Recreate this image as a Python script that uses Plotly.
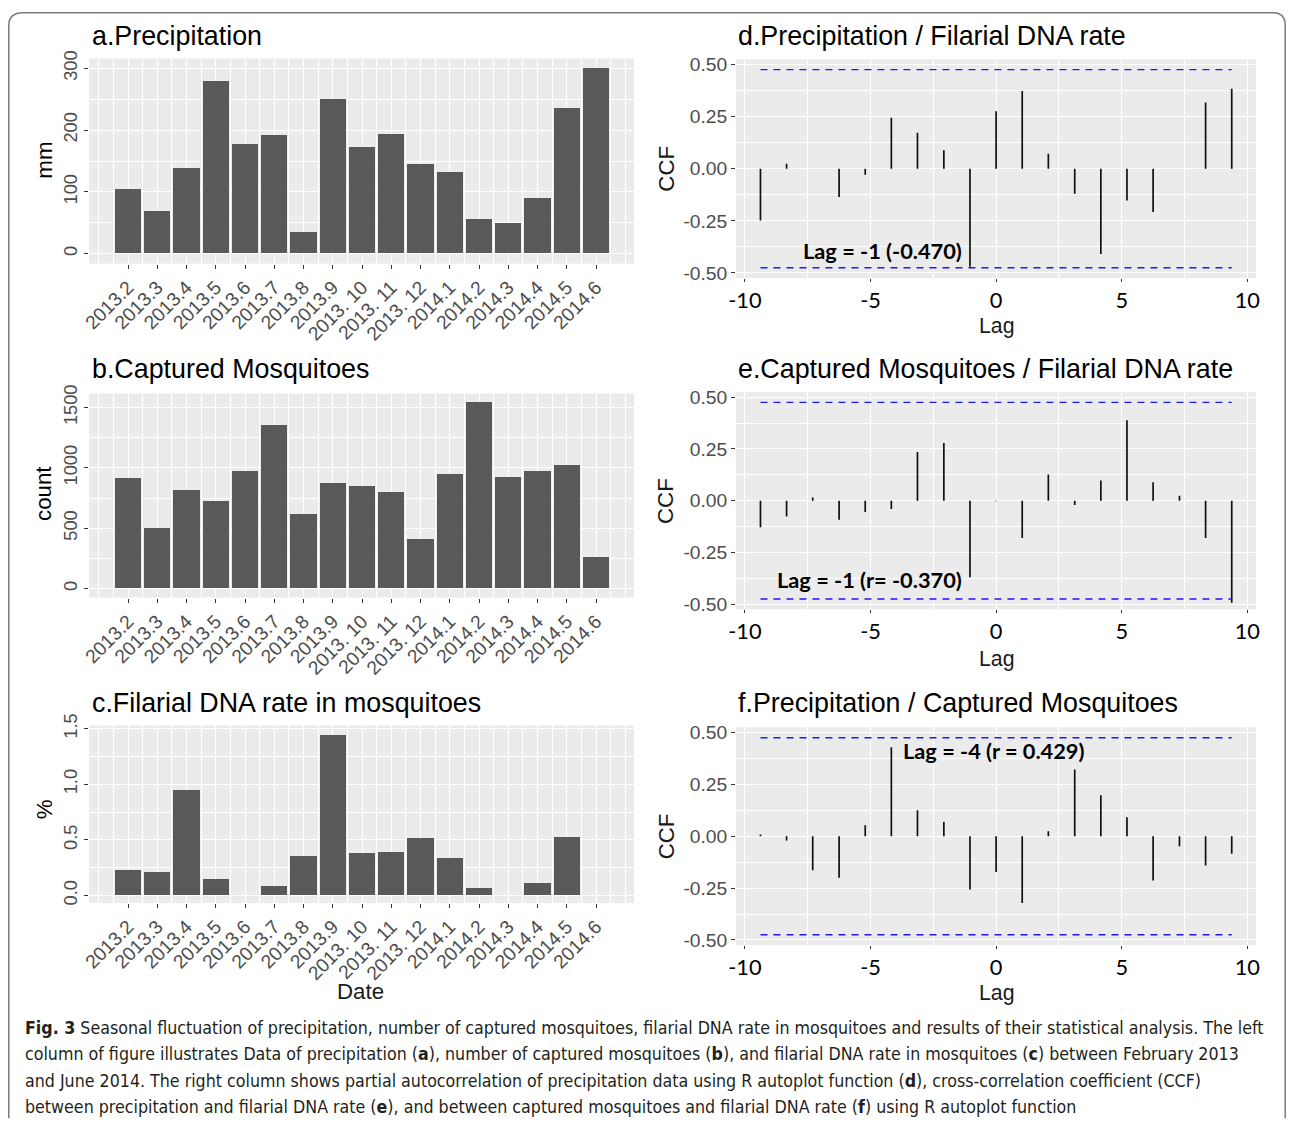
import numpy as np
import plotly.graph_objects as go

W, H = 1290, 1124

# ---------------- data ----------------
dates = ["2013.2", "2013.3", "2013.4", "2013.5", "2013.6", "2013.7", "2013.8", "2013.9",
         "2013. 10", "2013. 11", "2013. 12", "2014.1", "2014.2", "2014.3", "2014.4",
         "2014.5", "2014.6"]
precip_mm = [104, 68, 138, 278, 177, 191, 34, 250, 172, 193, 145, 131, 55, 49, 89, 235, 300]
mosq_count = [909, 500, 809, 721, 970, 1354, 610, 870, 845, 796, 409, 945, 1541, 920, 970, 1019, 260]
dna_rate = [0.228, 0.204, 0.945, 0.147, 0.0, 0.081, 0.348, 1.443, 0.378, 0.39, 0.513, 0.336,
            0.066, 0.0, 0.108, 0.525, 0.0]

lags = [-9.38, -8.34, -7.30, -6.25, -5.21, -4.17, -3.13, -2.08, -1.04, 0.0,
        1.04, 2.08, 3.13, 4.17, 5.21, 6.25, 7.30, 8.34, 9.38]
ccf_precip_dna = [-0.248, 0.024, 0.0, -0.136, -0.029, 0.245, 0.173, 0.088, -0.470, 0.276,
                  0.373, 0.072, -0.120, -0.409, -0.152, -0.208, 0.0, 0.317, 0.383]
ccf_mosq_dna = [-0.128, -0.076, 0.016, -0.092, -0.055, -0.040, 0.235, 0.279, -0.370, -0.003,
                -0.180, 0.126, -0.021, 0.097, 0.389, 0.089, 0.024, -0.180, -0.493]
ccf_precip_mosq = [0.008, -0.021, -0.164, -0.200, 0.053, 0.429, 0.125, 0.069, -0.257, -0.172,
                   -0.322, 0.024, 0.322, 0.198, 0.092, -0.214, -0.048, -0.141, -0.085]
conf_limit = 0.475

# ---------------- layout helpers ----------------
# The photographed page shows the figure slightly inset/scaled; layout positions below are
# given in target-picture pixels and mapped back to figure pixels.
OX, SX = 9.9, 0.9907
OY, SY = 11.6, 0.9839
FS = 2.0 / (SX + SY)

def fx(X):
    return (X - OX) / SX

def fy(Y):
    return (Y - OY) / SY

def px(X):
    return fx(X) / W

def py(Y):
    return 1 - fy(Y) / H

def xd(a, b):
    return [px(a), px(b)]

def yd(top, bottom):
    return [py(bottom), py(top)]

def fsz(s):
    return round(s * FS, 2)

BG = "#EBEBEB"
BAR = "#595959"
TICKC = "#4D4D4D"
AXF = "Liberation Sans, Arial, sans-serif"
CALF = "Lato, Carlito, Calibri, sans-serif"

fig = go.Figure()

# ---------------- left column: bar charts ----------------
left_panels = [
    (precip_mm, [-16, 316], [0, 100, 200, 300], [50, 150, 250], ["0", "100", "200", "300"], (58, 263)),
    (mosq_count, [-75, 1616], [0, 500, 1000, 1500], [250, 750, 1250], ["0", "500", "1000", "1500"], (392.7, 596.7)),
    (dna_rate, [-0.067, 1.53], [0, 0.5, 1.0, 1.5], [0.25, 0.75, 1.25], ["0.0", "0.5", "1.0", "1.5"], (724.3, 901.7)),
]
pos = list(range(len(dates)))
x_minor = list(np.arange(-1, len(dates) + 0.6, 0.5))

for i, (vals, yr, ytv, ymin, ytt, (top, bot)) in enumerate(left_panels):
    n = i + 1
    xa = "x" if n == 1 else f"x{n}"
    ya = "y" if n == 1 else f"y{n}"
    fig.add_trace(go.Bar(x=pos, y=vals, width=0.9, marker=dict(color=BAR, line=dict(width=0)),
                         xaxis=xa, yaxis=ya, showlegend=False))
    fig.layout[("xaxis" if n == 1 else f"xaxis{n}")] = dict(
        domain=xd(91, 636), anchor=ya, range=[-1.33, 17.3], tickmode="array",
        tickvals=pos, ticktext=dates, tickangle=-45, ticks="outside", ticklen=4,
        tickcolor="#333333", tickwidth=1, tickfont=dict(family=AXF, size=fsz(19), color=TICKC),
        showgrid=True, gridcolor="white", gridwidth=1.2, zeroline=False, showline=False,
        minor=dict(tickvals=x_minor, showgrid=True, gridcolor="white", gridwidth=0.6, ticks=""),
        fixedrange=True)
    fig.layout[("yaxis" if n == 1 else f"yaxis{n}")] = dict(
        domain=yd(top, bot), anchor=xa, range=yr, tickmode="array", tickvals=ytv, ticktext=ytt,
        tickangle=-90, ticks="outside", ticklen=4, tickcolor="#333333", tickwidth=1,
        tickfont=dict(family=AXF, size=fsz(18), color=TICKC), showgrid=True, gridcolor="white",
        gridwidth=1.2, zeroline=False, showline=False,
        minor=dict(tickvals=ymin, showgrid=True, gridcolor="white", gridwidth=0.6, ticks=""),
        fixedrange=True)

# ---------------- right column: CCF plots ----------------
right_panels = [
    (ccf_precip_dna, (58.8, 277.5)),
    (ccf_mosq_dna, (391.3, 608.3)),
    (ccf_precip_mosq, (726.2, 943.8)),
]
for j, (vals, (top, bot)) in enumerate(right_panels):
    n = j + 4
    xa, ya = f"x{n}", f"y{n}"
    xs, ys = [], []
    for lg, v in zip(lags, vals):
        xs += [lg, lg, None]
        ys += [0, v, None]
    fig.add_trace(go.Scatter(x=xs, y=ys, mode="lines", line=dict(color="#111111", width=1.7),
                             xaxis=xa, yaxis=ya, showlegend=False, hoverinfo="skip"))
    for c in (conf_limit, -conf_limit):
        fig.add_trace(go.Scatter(x=[lags[0], lags[-1]], y=[c, c], mode="lines",
                                 line=dict(color="#1a1aff", width=1.4, dash="7px,6px"),
                                 xaxis=xa, yaxis=ya, showlegend=False, hoverinfo="skip"))
    fig.layout[f"xaxis{n}"] = dict(
        domain=xd(738, 1258), anchor=ya, range=[-10.35, 10.35], tickmode="array",
        tickvals=[-10, -5, 0, 5, 10], ticktext=["-10", "-5", "0", "5", "10"],
        ticks="outside", ticklen=3, tickcolor="#333333", tickwidth=1, ticklabelstandoff=0,
        tickfont=dict(family=CALF, size=fsz(21.5), color="#000000"), showgrid=True,
        gridcolor="white", gridwidth=1.2, zeroline=False, showline=False,
        minor=dict(tickvals=[-7.5, -2.5, 2.5, 7.5], showgrid=True, gridcolor="white",
                   gridwidth=0.6, ticks=""),
        fixedrange=True)
    fig.layout[f"yaxis{n}"] = dict(
        domain=yd(top, bot), anchor=xa, range=[-0.525, 0.525], tickmode="array",
        tickvals=[-0.5, -0.25, 0, 0.25, 0.5], ticktext=["-0.50", "-0.25", "0.00", "0.25", "0.50"],
        ticks="outside", ticklen=4, tickcolor="#333333", tickwidth=1,
        tickfont=dict(family=AXF, size=fsz(19), color=TICKC), showgrid=True, gridcolor="white",
        gridwidth=1.2, zeroline=False, showline=False,
        minor=dict(tickvals=[-0.375, -0.125, 0.125, 0.375], showgrid=True, gridcolor="white",
                   gridwidth=0.6, ticks=""),
        fixedrange=True)

# ---------------- annotations ----------------
ann = []

def text(x, y, s, size, color="#000000", family=AXF, xanchor="left", angle=0, yanchor="middle"):
    ann.append(dict(x=px(x), y=py(y), xref="paper", yref="paper", text=s, showarrow=False,
                    xanchor=xanchor, yanchor=yanchor, textangle=angle,
                    font=dict(family=family, size=fsz(size), color=color)))

titles = [(92, 36, "a.Precipitation"), (92, 368, "b.Captured Mosquitoes"),
          (92, 702, "c.Filarial DNA rate in mosquitoes"),
          (738, 36, "d.Precipitation / Filarial DNA rate"),
          (738, 368, "e.Captured Mosquitoes / Filarial DNA rate"),
          (738, 702, "f.Precipitation / Captured Mosquitoes")]
for x, y, s in titles:
    text(x, y, s, 26.5)

text(46, 160, "mm", 22, xanchor="center", angle=-90)
text(46, 493, "count", 22, xanchor="center", angle=-90)
text(46, 808, "%", 22, xanchor="center", angle=-90)
text(362, 990, "Date", 22, color="#1a1a1a", xanchor="center")
for yc in (168, 500, 835):
    text(668, yc, "CCF", 22, color="#1a1a1a", xanchor="center", angle=-90)
for yc in (325, 658, 992):
    text(998, yc, "Lag", 21, color="#1a1a1a", xanchor="center")

# peak-lag labels placed in data coordinates
peak_labels = [("x4", "y4", -4.52, -0.393, "Lag = -1 (-0.470)"),
               ("x5", "y5", -5.04, -0.383, "Lag = -1 (r= -0.370)"),
               ("x6", "y6", -0.12, 0.41, "Lag = -4 (r = 0.429)")]
for xr, yr, x, y, s in peak_labels:
    ann.append(dict(x=x, y=y, xref=xr, yref=yr, text=f"<b>{s}</b>", showarrow=False,
                    xanchor="center", yanchor="middle",
                    font=dict(family=CALF, size=fsz(21.5), color="#000000")))

# caption
CAPF = "Liberation Sans Narrow, Arial Narrow, DejaVu Sans Condensed, sans-serif"
cap_lines = [
    "<b>Fig. 3</b> Seasonal fluctuation of precipitation, number of captured mosquitoes, filarial DNA rate in mosquitoes and results of their statistical analysis. The left",
    "column of figure illustrates Data of precipitation (<b>a</b>), number of captured mosquitoes (<b>b</b>), and filarial DNA rate in mosquitoes (<b>c</b>) between February 2013",
    "and June 2014. The right column shows partial autocorrelation of precipitation data using R autoplot function (<b>d</b>), cross-correlation coefficient (CCF)",
    "between precipitation and filarial DNA rate (<b>e</b>), and between captured mosquitoes and filarial DNA rate (<b>f</b>) using R autoplot function",
]
for s, yc in zip(cap_lines, [1027, 1053, 1080, 1106]):
    text(25, yc, s, 17.45, color="#231f20", family=CAPF)

# border frame (rounded), clamped to the drawable figure area
def P(X, Y):
    x = min(max(fx(X), 0.8), W - 0.8) / W
    y = 1 - min(max(fy(Y), 0.8), H - 0.8) / H
    return f"{x:.5f},{y:.5f}"

frame = (f"M {P(10, 1130)} L {P(10, 25)} Q {P(10, 10)} {P(25, 10)} L {P(1275, 10)} "
         f"Q {P(1289, 10)} {P(1289, 25)} L {P(1289, 1130)}")

fig.update_layout(
    width=W, height=H, margin=dict(l=0, r=0, t=0, b=0, pad=0),
    paper_bgcolor="white", plot_bgcolor=BG, bargap=0, showlegend=False,
    annotations=ann,
    shapes=[dict(type="path", path=frame, xref="paper", yref="paper",
                 line=dict(color="#7a7a7a", width=1.5))],
    font=dict(family=AXF),
)

fig.write_html(
    "out.html",
    config={"displayModeBar": False},
    post_script=("document.body.style.margin='0';document.body.style.padding='0';"
                 "document.documentElement.style.overflow='hidden';"),
)
